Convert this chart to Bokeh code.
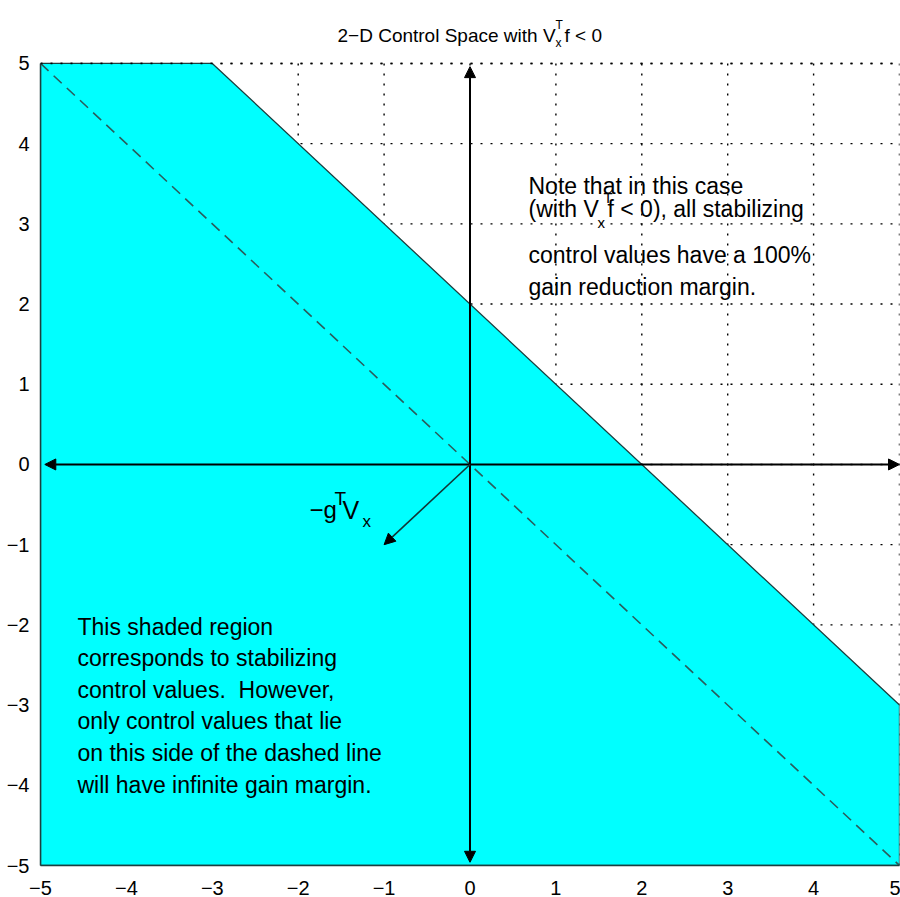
from bokeh.plotting import figure
from bokeh.models import Arrow, NormalHead, Label, Range1d, FixedTicker
from bokeh.embed import file_html
from bokeh.resources import INLINE

# ---- data -------------------------------------------------------------
ticks = [-5, -4, -3, -2, -1, 0, 1, 2, 3, 4, 5]
tick_labels = ["\u22125", "\u22124", "\u22123", "\u22122", "\u22121",
               "0", "1", "2", "3", "4", "5"]

# stabilizing half-plane u1 + u2 < 2, clipped to the [-5, 5] box
region_x = [-5, -3, 5, 5, -5]
region_y = [5, 5, -3, -5, -5]

# line u2 = -u1 (infinite gain margin boundary)
dashed_x = [-5, 5]
dashed_y = [5, -5]

# coordinate axes drawn as double-headed arrows
haxis_x = [-4.95, 5.0]
vaxis_y = [-4.96, 4.96]

# direction -g^T V_x
grad_x = [0, -1]
grad_y = [0, -1]

left_note = [
    "This shaded region",
    "corresponds to stabilizing",
    "control values.\u00a0 However,",
    "only control values that lie",
    "on this side of the dashed line",
    "will have infinite gain margin.",
]

FONT = "Liberation Sans"

# ---- geometry ---------------------------------------------------------
W, H = 900, 897
LEFT, RIGHT, BOTTOM = 40, 1, 31
AXES_TOP_PX = 63                      # page row where u2 = 5 sits
lo, hi = ticks[0], ticks[-1]
px_per_unit = (H - BOTTOM - AXES_TOP_PX) / (hi - lo)
y_top = hi + AXES_TOP_PX / px_per_unit  # frame reaches the top of the page,
                                        # leaving room for the title

p = figure(width=W, height=H, x_range=Range1d(lo, hi),
           y_range=Range1d(lo, y_top), output_backend="svg",
           toolbar_location=None, min_border_left=LEFT,
           min_border_right=RIGHT, min_border_top=0,
           min_border_bottom=BOTTOM)
p.outline_line_color = None
p.background_fill_color = "white"
p.border_fill_color = "white"
p.grid.visible = False

for ax in (p.xaxis, p.yaxis):
    ax.ticker = FixedTicker(ticks=ticks)
    ax.bounds = (lo, hi)
    ax.major_label_overrides = {t: s for t, s in zip(ticks, tick_labels)}
    ax.major_tick_line_color = None
    ax.minor_tick_line_color = None
    ax.axis_line_color = "#1c3f3f"
    ax.axis_line_width = 1.5
    ax.major_label_text_font = FONT
    ax.major_label_text_font_size = "20px"
    ax.major_label_text_color = "black"
p.yaxis.major_label_standoff = 5
p.xaxis.major_label_standoff = 9

# dotted grid limited to the [-5, 5] square
grid_style = dict(line_color="black", line_dash="2 8", line_width=1.4)
p.segment(x0=ticks, y0=[lo] * len(ticks), x1=ticks, y1=[hi] * len(ticks),
          **grid_style)
p.segment(x0=[lo] * len(ticks), y0=ticks, x1=[hi] * len(ticks), y1=ticks,
          **grid_style)

# shaded region and dashed line
p.patch(region_x, region_y, fill_color="#00FFFF", line_color="#1c3f3f",
        line_width=1.3)
p.line(dashed_x, dashed_y, line_color="#2b5c5c", line_width=1.6,
       line_dash="11 7")

# upper limit grid line stays visible over the shading
p.line([lo, hi], [hi, hi], line_color="black", line_dash="2 8",
       line_width=1.6)


# axes arrows
def head():
    return NormalHead(size=11, fill_color="black", line_color="black")


p.add_layout(Arrow(x_start=haxis_x[0], y_start=0, x_end=haxis_x[1], y_end=0,
                   start=head(), end=head(), line_color="black", line_width=2))
p.add_layout(Arrow(x_start=0, y_start=vaxis_y[0], x_end=0, y_end=vaxis_y[1],
                   start=head(), end=head(), line_color="black", line_width=2))
p.add_layout(Arrow(x_start=grad_x[0], y_start=grad_y[0],
                   x_end=grad_x[1], y_end=grad_y[1],
                   end=head(), line_color="#123636", line_width=1.6))

# ---- text (positions in page pixels) ----------------------------------
plot_w = W - LEFT - RIGHT


def dx(px):
    return lo + (px - LEFT) * (hi - lo) / plot_w


def dy(py):
    return y_top - py / px_per_unit


def put(txt, px, py, size):
    p.add_layout(Label(x=dx(px), y=dy(py), text=txt, text_font=FONT,
                       text_font_size=f"{size}px", text_color="black",
                       text_baseline="alphabetic", text_align="left"))


# title: 2-D Control Space with V_x^T f < 0
put("2\u2212D Control Space with V", 337, 35, 19)
put("T", 555, 25, 12)
put("x", 555, 43, 12)
put("f < 0", 564, 35, 19)

# right-hand note
put("Note that in this case", 528, 186, 23)
put("(with V", 528, 209, 23)
put("T", 603, 197, 15)
put("x", 597, 222, 15)
put("f < 0), all stabilizing", 607, 209, 23)
put("control values have a 100%", 528, 255, 23)
put("gain reduction margin.", 528, 287, 23)

# left-hand note inside the shaded region
for i, line in enumerate(left_note):
    put(line, 77, 627 + i * 31.6, 23)

# vector label -g^T V_x
put("\u2212g", 309, 510, 24)
put("T", 334, 499, 19)
put("V", 342, 510, 25)
put("x", 362, 522, 17)

open("out.html", "w").write(file_html(p, INLINE))
